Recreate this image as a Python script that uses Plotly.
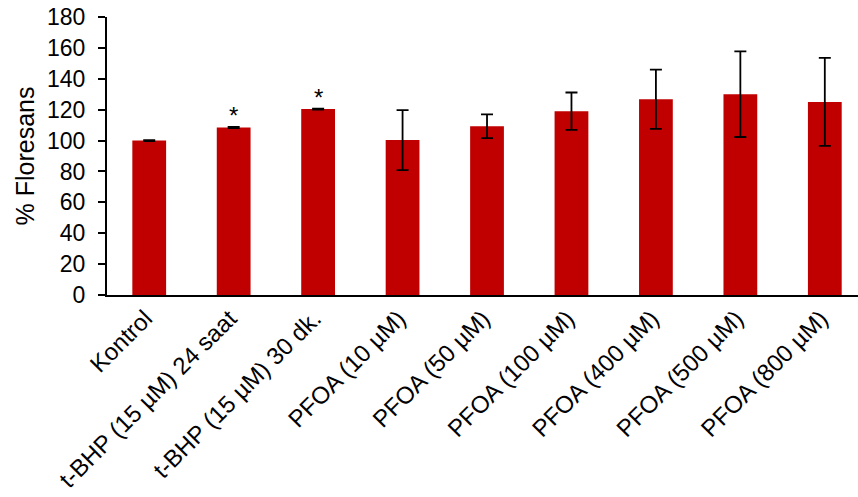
import plotly.graph_objects as go

categories = ["Kontrol", "t-BHP (15 µM) 24 saat", "t-BHP (15 µM) 30 dk.",
              "PFOA (10 µM)", "PFOA (50 µM)", "PFOA (100 µM)",
              "PFOA (400 µM)", "PFOA (500 µM)", "PFOA (800 µM)"]
values = [100, 108.5, 120.4, 100.3, 109.3, 119.0, 126.7, 130.0, 125.0]
errors = [0.3, 0.4, 0.3, 19.4, 7.7, 12.1, 19.2, 27.7, 28.5]
significant = [False, True, True, False, False, False, False, False, False]
y_ticks = [0, 20, 40, 60, 80, 100, 120, 140, 160, 180]

FONT = "Liberation Sans, Arial, sans-serif"

fig = go.Figure()
fig.add_trace(go.Bar(
    x=categories, y=values,
    marker=dict(color="#C00000", line=dict(width=0)),
    error_y=dict(type="data", array=errors, visible=True,
                 color="black", thickness=1.8, width=6),
    showlegend=False,
))

for cat, v, e, s in zip(categories, values, errors, significant):
    if s:
        fig.add_annotation(x=cat, y=v + e, text="*", showarrow=False,
                           yanchor="middle", yshift=11,
                           font=dict(family=FONT, size=24, color="black"))

fig.update_layout(
    width=858, height=497,
    margin=dict(l=107, r=0, t=17, b=202, autoexpand=False),
    paper_bgcolor="white", plot_bgcolor="white",
    bargap=0.6,
    font=dict(family=FONT, size=23, color="black"),
)
fig.update_xaxes(
    range=[-0.5, 8.393],
    tickangle=-45,
    showline=True, linecolor="black", linewidth=2,
    ticks="", showgrid=False, automargin=False,
    ticklabelshift=-4, ticklabelstandoff=-2,
    tickfont=dict(family=FONT, size=24, color="black"),
)
fig.update_yaxes(
    range=[0, 180], tickvals=y_ticks,
    showline=True, linecolor="black", linewidth=2,
    ticks="outside", ticklen=7, tickwidth=2, tickcolor="black",
    showgrid=False, zeroline=False, automargin=False,
    ticklabelstandoff=8,
    tickfont=dict(family=FONT, size=23, color="black"),
    title=dict(text="% Floresans", font=dict(family=FONT, size=25, color="black"),
               standoff=5),
)

fig.write_html("out.html",
               config={"displayModeBar": False},
               post_script="document.body.style.margin='0';document.body.style.overflow='hidden';")
